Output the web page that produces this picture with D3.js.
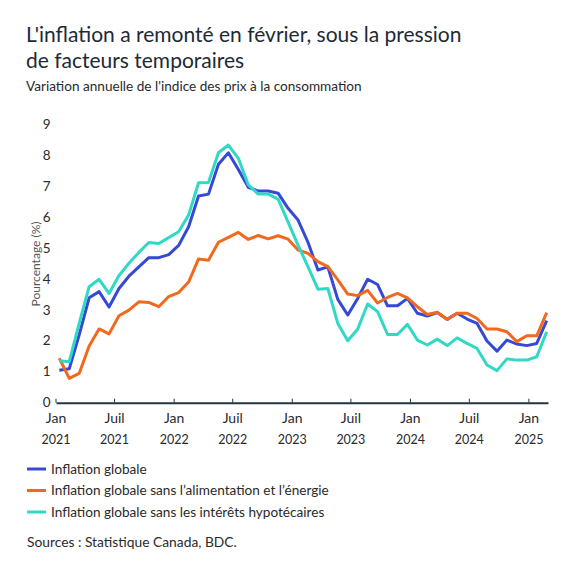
<!DOCTYPE html>
<html>
<head>
<meta charset="utf-8">
<script src="https://cdn.jsdelivr.net/npm/d3@7"></script>
<style>
  body { margin: 0; background: #fff; }
  svg { display: block; font-family: "Lato", "Roboto", sans-serif; }
</style>
</head>
<body>
<div id="canvas"></div>
<script>
"use strict"

/* Canvas */
let svgWidth = 575;
let svgHeight = 575;

/* Data: one value per month, Jan 2021 - Feb 2025 */
let startMonth = new Date(2021, 0, 1);
let monthCount = 50;

let globalInflation = [
  1.05, 1.1, 2.2, 3.4, 3.6, 3.1, 3.7, 4.1, 4.4, 4.7, 4.7, 4.8,
  5.1, 5.7, 6.7, 6.76, 7.73, 8.1, 7.56, 6.98, 6.86, 6.86, 6.79, 6.3,
  5.92, 5.2, 4.3, 4.4, 3.35, 2.84, 3.38, 4.0, 3.83, 3.14, 3.14, 3.38,
  2.9, 2.81, 2.92, 2.7, 2.9, 2.71, 2.57, 2.0, 1.67, 2.03, 1.9, 1.85,
  1.92, 2.66
];

let coreInflation = [
  1.44, 0.79, 0.95, 1.84, 2.39, 2.23, 2.82, 3.0, 3.27, 3.25, 3.11, 3.44,
  3.57, 3.91, 4.66, 4.62, 5.2, 5.36, 5.52, 5.29, 5.42, 5.31, 5.41, 5.3,
  4.95, 4.84, 4.57, 4.41, 3.98, 3.52, 3.47, 3.64, 3.23, 3.41, 3.54, 3.4,
  3.11, 2.86, 2.93, 2.7, 2.9, 2.9, 2.73, 2.39, 2.39, 2.3, 1.98, 2.17,
  2.17, 2.92
];

let exMortgageInflation = [
  1.36, 1.33, 2.57, 3.76, 4.0, 3.54, 4.12, 4.52, 4.87, 5.19, 5.16, 5.35,
  5.54, 6.08, 7.13, 7.14, 8.1, 8.35, 7.92, 7.06, 6.76, 6.76, 6.6, 5.85,
  5.11, 4.41, 3.68, 3.7, 2.57, 2.01, 2.39, 3.2, 2.95, 2.21, 2.21, 2.54,
  2.03, 1.87, 2.06, 1.85, 2.1, 1.92, 1.76, 1.22, 1.04, 1.42, 1.38, 1.38,
  1.49, 2.3
];

let seriesNames = [
  "Inflation globale",
  "Inflation globale sans l\u2019alimentation et l\u2019\u00e9nergie",
  "Inflation globale sans les int\u00e9r\u00eats hypot\u00e9caires"
];
let seriesColors = ["#3549d6", "#f2691e", "#2fd9c5"];

let yTicks = [0, 1, 2, 3, 4, 5, 6, 7, 8, 9];
let xTickDates = [
  new Date(2021, 0, 1), new Date(2021, 6, 1), new Date(2022, 0, 1),
  new Date(2022, 6, 1), new Date(2023, 0, 1), new Date(2023, 6, 1),
  new Date(2024, 0, 1), new Date(2024, 6, 1), new Date(2025, 0, 1)
];
let monthNames = ["Jan", "Juil"];

let allSeries = [globalInflation, coreInflation, exMortgageInflation];

/* Create drawing canvas */
let svg = d3.select("#canvas")
    .append("svg")
    .attr("width", svgWidth)
    .attr("height", svgHeight);

let textColor = "#1e2a36";
let labelColor = "#2a2a2a";

/* Title and subtitle */
svg.append("text")
    .attr("x", 26)
    .attr("y", 42)
    .attr("fill", textColor)
    .style("font-size", "21px")
    .text("L'inflation a remonté en février, sous la pression");

svg.append("text")
    .attr("x", 26)
    .attr("y", 67.5)
    .attr("fill", textColor)
    .style("font-size", "21px")
    .text("de facteurs temporaires");

svg.append("text")
    .attr("x", 26)
    .attr("y", 91)
    .attr("fill", labelColor)
    .style("font-size", "13.6px")
    .text("Variation annuelle de l'indice des prix à la consommation");

/* Scales */
let yScale = d3.scaleLinear()
    .domain([0, 9])
    .range([402.7, 125]);

// data points sit on evenly spaced months
let xScale = d3.scaleLinear()
    .domain([0, monthCount - 1])
    .range([59.3, 546.7]);

// the axis ticks follow the calendar
let xAxisScale = d3.scaleTime()
    .domain([startMonth, new Date(2025, 2, 1)])
    .range([56, 548]);

/* Y tick labels (no axis line) */
svg.selectAll(".ytick")
    .data(yTicks)
    .join("text")
    .attr("class", "ytick")
    .attr("x", 50.5)
    .attr("y", d => yScale(d))
    .attr("dy", "0.33em")
    .attr("text-anchor", "end")
    .attr("fill", labelColor)
    .style("font-size", "13.5px")
    .text(d => d);

svg.append("text")
    .attr("transform", "translate(36," + 264 + ") rotate(-90)")
    .attr("text-anchor", "middle")
    .attr("dy", "0.35em")
    .attr("fill", "#555")
    .style("font-size", "12px")
    .text("Pourcentage (%)");

/* Lines */
let line = d3.line()
    .x((d, i) => xScale(i))
    .y(d => yScale(d));

svg.selectAll(".series")
    .data(allSeries)
    .join("path")
    .attr("class", "series")
    .attr("fill", "none")
    .attr("stroke", (d, i) => seriesColors[i])
    .attr("stroke-width", 3)
    .attr("stroke-linejoin", "round")
    .attr("d", line);

/* X axis */
let xAxis = d3.axisBottom(xAxisScale)
    .tickValues(xTickDates)
    .tickSize(0)
    .tickFormat("");

let axisG = svg.append("g")
    .attr("transform", "translate(0," + yScale(0) + ")")
    .call(xAxis);
axisG.select(".domain")
    .attr("stroke", "#1f3644")
    .attr("stroke-width", 2);

svg.selectAll(".xtick")
    .data(xTickDates)
    .join("line")
    .attr("class", "xtick")
    .attr("x1", d => xAxisScale(d))
    .attr("x2", d => xAxisScale(d))
    .attr("y1", yScale(0))
    .attr("y2", yScale(0) - 4)
    .attr("stroke", "#1f3644")
    .attr("stroke-width", 1);

let xLabels = svg.selectAll(".xlabel")
    .data(xTickDates)
    .join("text")
    .attr("class", "xlabel")
    .attr("text-anchor", "middle")
    .attr("fill", labelColor)
    .style("font-size", "14px");

xLabels.append("tspan")
    .attr("x", d => xAxisScale(d))
    .attr("y", 423)
    .text(d => monthNames[d.getMonth() === 0 ? 0 : 1]);

xLabels.append("tspan")
    .attr("x", d => xAxisScale(d))
    .attr("y", 443.5)
    .style("font-size", "12.5px")
    .text(d => d.getFullYear());

/* Legend */
let legendX = 27;
let legendY = 469;
let legendSpacing = 21.5;

seriesNames.forEach(function (name, i) {
    svg.append("line")
        .attr("x1", legendX)
        .attr("x2", legendX + 19)
        .attr("y1", legendY + legendSpacing * i)
        .attr("y2", legendY + legendSpacing * i)
        .attr("stroke", seriesColors[i])
        .attr("stroke-width", 3);

    svg.append("text")
        .attr("x", legendX + 24)
        .attr("y", legendY + legendSpacing * i)
        .attr("dy", "0.35em")
        .attr("fill", labelColor)
        .style("font-size", "13.6px")
        .text(name);
});

/* Source */
svg.append("text")
    .attr("x", 27)
    .attr("y", 542)
    .attr("dy", "0.35em")
    .attr("fill", labelColor)
    .style("font-size", "13.8px")
    .text("Sources : Statistique Canada, BDC.");
</script>
</body>
</html>
